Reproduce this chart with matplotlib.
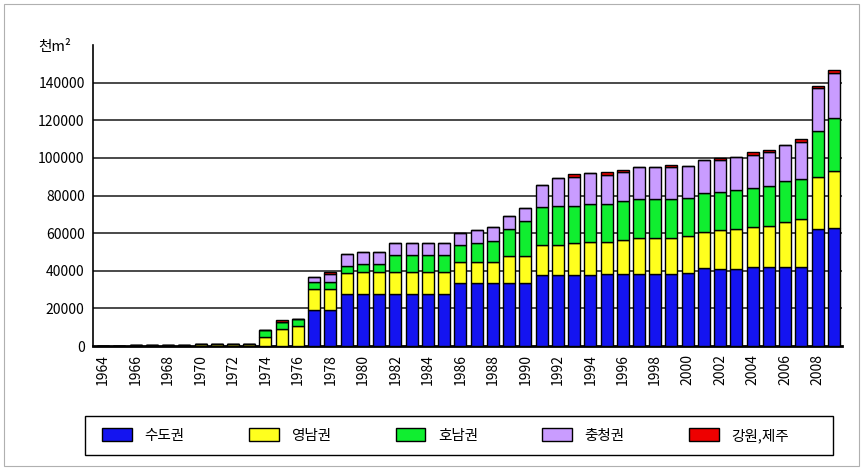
import matplotlib.pyplot as plt
from matplotlib.patches import Patch, Rectangle

plt.rcParams['font.family'] = ['Noto Sans CJK KR', 'DejaVu Sans']

# --------------------------------------------------
# Daten (천m2)
# --------------------------------------------------

years = list(range(1964, 2010))

sudo = [0, 0, 0, 0, 0, 0, 0, 0, 0, 0,
        0, 0, 0, 19200, 19200, 27400, 27400, 27400, 27400, 27400,
        27400, 27400, 33300, 33300, 33300, 33300, 33300, 37800, 37800, 37800,
        37800, 38100, 38100, 38100, 38100, 38100, 38700, 41300, 41000, 41000,
        41900, 41900, 41900, 41900, 62100, 62600]

yeongnam = [0, 0, 400, 400, 400, 400, 900, 900, 900, 900,
            4600, 8900, 10500, 11000, 11000, 11300, 12100, 12100, 12100, 12100,
            12100, 12100, 11600, 11600, 11600, 14700, 14800, 15800, 15800, 16800,
            17400, 17100, 18300, 19200, 19200, 19200, 19700, 19100, 20500, 21000,
            21200, 21800, 24200, 25500, 27600, 30300]

honam = [0, 0, 0, 0, 0, 0, 0, 0, 0, 0,
         3900, 3700, 3900, 3700, 3700, 3700, 4000, 4000, 8900, 8900,
         8900, 8900, 8700, 9700, 11100, 14000, 18300, 20200, 20700, 19700,
         20200, 20200, 20600, 20700, 20700, 20700, 20200, 20800, 20300, 20800,
         20800, 21200, 21500, 21300, 24800, 28200]

chungcheong = [0, 0, 0, 0, 0, 0, 0, 0, 0, 0,
               0, 0, 0, 2600, 4200, 6700, 6300, 6300, 6600, 6600,
               6600, 6600, 6700, 7100, 7500, 7300, 7000, 12000, 14900, 15400,
               16300, 15700, 15400, 17200, 17200, 17000, 17200, 17800, 17200, 17600,
               17400, 18100, 19000, 19800, 22800, 24000]

gangwon_jeju = [0, 0, 0, 0, 0, 0, 0, 0, 0, 0,
                0, 1100, 0, 0, 1200, 0, 0, 0, 0, 0,
                0, 0, 0, 0, 0, 0, 0, 0, 0, 1800,
                0, 1300, 1200, 0, 0, 1000, 0, 0, 800, 0,
                1600, 1100, 0, 1500, 1000, 1600]

series = [sudo, yeongnam, honam, chungcheong, gangwon_jeju]
labels = ["수도권", "영남권", "호남권", "충청권", "강원,제주"]
colors = ["#1414f0", "#ffff1e", "#10ee30", "#c99cff", "#ee0000"]

tick_years = list(range(1964, 2009, 2))
y_ticks = list(range(0, 140001, 20000))

# --------------------------------------------------
# Figur
# --------------------------------------------------

fig = plt.figure(figsize=(8.64, 4.70), dpi=100)
ax = fig.add_axes([93 / 864, 1 - 346 / 470, 749 / 864, 301 / 470])

bottom = [0] * len(years)
for vals, lab, col in zip(series, labels, colors):
    ax.bar(years, vals, width=0.74, bottom=bottom, color=col,
           edgecolor="black", linewidth=1.0, label=lab, zorder=3)
    bottom = [b + v for b, v in zip(bottom, vals)]

ax.set_xlim(1964 - 0.62, 2009 + 0.5)
ax.set_ylim(0, 160000)

ax.set_yticks(y_ticks)
ax.set_yticklabels([str(v) for v in y_ticks], fontsize=10)
ax.set_xticks(tick_years)
ax.set_xticklabels([str(y) for y in tick_years], rotation=90, fontsize=10)
ax.tick_params(axis="both", length=0, pad=6)

for v in y_ticks[1:]:
    ax.axhline(v, color="#2a2a2a", linewidth=1.2, zorder=1)

for side in ["top", "right"]:
    ax.spines[side].set_visible(False)
ax.spines["left"].set_linewidth(1.2)
ax.spines["bottom"].set_linewidth(2.0)

fig.text(38 / 864, 1 - 47 / 470, "천m²", fontsize=10.5, va="center")

# --------------------------------------------------
# Legende
# --------------------------------------------------

handles = [Patch(facecolor=c, edgecolor="black", linewidth=1.0) for c in colors]
leg = fig.legend(handles, labels, ncol=5, loc="center left",
                 bbox_to_anchor=(98 / 864, 1 - 435.5 / 470),
                 fontsize=10.5, frameon=False,
                 handlelength=2.05, handleheight=1.0, handletextpad=0.85,
                 columnspacing=4.4, borderaxespad=0.0, borderpad=0.3)

fig.patches.append(Rectangle((85 / 864, 1 - 455 / 470), 748 / 864, 39 / 470,
                             transform=fig.transFigure, fill=False,
                             edgecolor="black", linewidth=1.0))

# äußerer Rahmen
fig.patches.append(Rectangle((4 / 864, 4 / 470), 855 / 864, 462 / 470,
                             transform=fig.transFigure, fill=False,
                             edgecolor="#b0b0b0", linewidth=0.8))

plt.savefig("out.png", dpi=100)
